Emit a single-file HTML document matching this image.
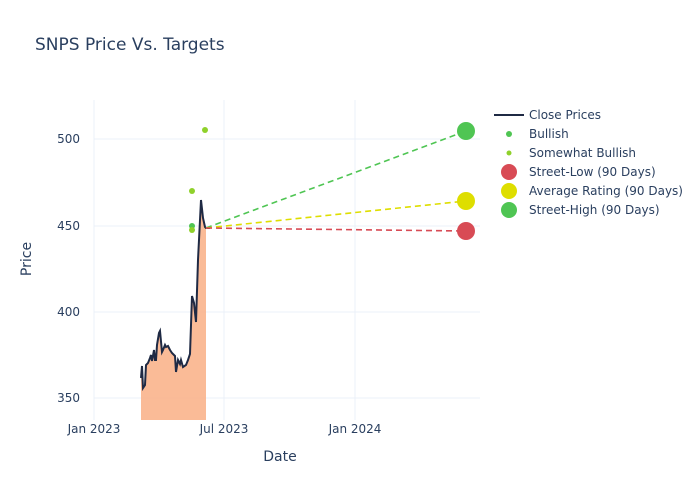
<!DOCTYPE html>
<html><head><style>body{margin:0;background:#fff}svg{display:block}text{font-family:"DejaVu Sans","Liberation Sans",sans-serif;fill:#2a3f5f}</style></head><body>
<svg width="700" height="500" xmlns="http://www.w3.org/2000/svg">
<rect width="700" height="500" fill="#fff"/>
<text x="35" y="50" font-size="17">SNPS Price Vs. Targets</text>
<g stroke="#ebf0f8" stroke-width="1">
<line x1="94" y1="100" x2="94" y2="420"/><line x1="224" y1="100" x2="224" y2="420"/><line x1="355" y1="100" x2="355" y2="420"/>
<line x1="94" y1="139" x2="480" y2="139"/><line x1="94" y1="226" x2="480" y2="226"/><line x1="94" y1="312" x2="480" y2="312"/><line x1="94" y1="398" x2="480" y2="398"/>
</g>
<g font-size="12" text-anchor="end"><text x="80" y="143">500</text><text x="80" y="230">450</text><text x="80" y="316">400</text><text x="80" y="402">350</text></g>
<g font-size="12" text-anchor="middle"><text x="94" y="433">Jan 2023</text><text x="224" y="433">Jul 2023</text><text x="355" y="433">Jan 2024</text></g>
<text x="280" y="461" font-size="14" text-anchor="middle">Date</text>
<text x="31" y="259" font-size="14" text-anchor="middle" transform="rotate(-90 31 259)">Price</text>
<path d="M141,420 L141,378 142,366 143,388 145,385 146,365 148,363 150,358 151,355 152,361 154,350 155,360 156,360 157,345 159,333 160,331 162,352 163,350 165,345 166,347 168,346 170,350 172,353 175,356 176,372 178,360 180,364 181,360 183,367 186,365 188,360 190,354 192,296 194,303 196,322 198,260 201,200 203,218 205,227 206,228 206,420 Z" fill="#f9b48c" opacity="0.9"/>
<path d="M141,378 142,366 143,388 145,385 146,365 148,363 150,358 151,355 152,361 154,350 155,360 156,360 157,345 159,333 160,331 162,352 163,350 165,345 166,347 168,346 170,350 172,353 175,356 176,372 178,360 180,364 181,360 183,367 186,365 188,360 190,354 192,296 194,303 196,322 198,260 201,200 203,218 205,227 206,228 210,228" fill="none" stroke="#1f2a44" stroke-width="2"/>
<line x1="206" y1="228" x2="466" y2="131" stroke="#4fc553" stroke-width="1.6" stroke-dasharray="6,4"/>
<line x1="206" y1="228" x2="466" y2="201" stroke="#dede00" stroke-width="1.6" stroke-dasharray="6,4"/>
<line x1="206" y1="228" x2="466" y2="231" stroke="#d84b55" stroke-width="1.6" stroke-dasharray="6,4"/>
<circle cx="192" cy="226" r="3" fill="#4fc553"/><circle cx="192" cy="230" r="3" fill="#8fd12b"/><circle cx="192" cy="191" r="3" fill="#8fd12b"/><circle cx="205" cy="130" r="3" fill="#8fd12b"/>
<circle cx="466" cy="131" r="9" fill="#4fc553"/><circle cx="466" cy="201" r="9" fill="#dede00"/><circle cx="466" cy="231" r="9" fill="#d84b55"/>
<g font-size="12">
<line x1="494" y1="115" x2="524" y2="115" stroke="#1f2a44" stroke-width="2"/><text x="529" y="119">Close Prices</text>
<circle cx="509" cy="134" r="3" fill="#4fc553"/><text x="529" y="138">Bullish</text>
<circle cx="509" cy="153" r="2.5" fill="#8fd12b"/><text x="529" y="157">Somewhat Bullish</text>
<circle cx="509" cy="172" r="8" fill="#d84b55"/><text x="529" y="176">Street-Low (90 Days)</text>
<circle cx="509" cy="191" r="8" fill="#dede00"/><text x="529" y="195">Average Rating (90 Days)</text>
<circle cx="509" cy="210" r="8" fill="#4fc553"/><text x="529" y="214">Street-High (90 Days)</text>
</g>
</svg>
</body></html>
